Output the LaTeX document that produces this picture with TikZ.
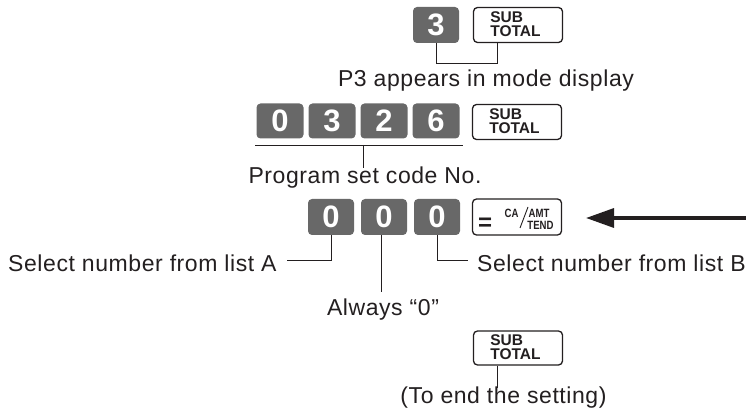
\documentclass[tikz,border=0pt]{standalone}
\usepackage{fontspec}
\usepackage{graphicx}
\setmainfont{Liberation Sans}
\newfontfamily\lblfont[LetterSpace=2.5]{Liberation Sans}
\usetikzlibrary{arrows.meta}
\definecolor{keygray}{RGB}{104,104,104}
\definecolor{ink}{RGB}{35,31,32}
\newcommand{\cnd}[1]{\scalebox{0.8}[1]{#1}}
\tikzset{
  numkey/.style={fill=keygray, draw=none, rounded corners=4pt, minimum width=46pt, minimum height=36pt,
    text=white, font=\fontsize{31}{31}\selectfont\bfseries, inner sep=0pt},
  fnkey/.style={draw=ink, line width=1.3pt, fill=white, rounded corners=4pt, minimum width=89pt, minimum height=35pt, inner sep=0pt},
  keylabel/.style={font=\fontsize{15.5}{14}\selectfont\bfseries, align=left, text=ink, inner sep=0pt},
  tiny/.style={font=\fontsize{12}{12}\selectfont\bfseries, text=ink, inner sep=0pt},
  lbl/.style={font=\lblfont\fontsize{23}{24}\selectfont, text=ink, inner sep=0pt},
  conn/.style={draw=ink, line width=0.9pt},
}
\begin{document}
\begin{tikzpicture}[x=1pt,y=-1pt]
\useasboundingbox (0,0) rectangle (746,419);
% Row 1
\node[numkey] (k3a) at (436,25) {3};
\node[fnkey] (st1) at (518,25) {};
\node[keylabel] (st1t) at (515.5,24) {SUB\\TOTAL};
\coordinate (b1) at (436,63);
\coordinate (b2) at (497,63);
\coordinate (b3) at (497,43);
\draw[conn] (k3a.south) -- (b1) -- (b2) -- (b3);
\node[lbl] (p3) at (486,81) {P3 appears in mode display};
% Row 2
\node[numkey, minimum width=47pt, minimum height=35pt] (k0) at (280,121) {0};
\node[numkey, minimum width=47pt, minimum height=35pt] (k3) at (332,121) {3};
\node[numkey, minimum width=47pt, minimum height=35pt] (k2) at (384,121) {2};
\node[numkey, minimum width=47pt, minimum height=35pt] (k6) at (436,121) {6};
\node[fnkey] (st2) at (517,122) {};
\node[keylabel] (st2t) at (514.5,121) {SUB\\TOTAL};
\coordinate (u1) at (255,145);
\coordinate (u2) at (463,145);
\coordinate (u3) at (363,145);
\coordinate (u4) at (363,168);
\draw[conn] (u1) -- (u2);
\draw[conn] (u3) -- (u4);
\node[lbl] (prog) at (365,178) {Program set code No.};
% Row 3
\node[numkey] (z1) at (331,217) {0};
\node[numkey] (z2) at (384,217) {0};
\node[numkey] (z3) at (437,217) {0};
\node[fnkey, minimum height=36pt] (eq) at (517,217) {};
\node[font=\fontsize{24}{24}\selectfont\bfseries, text=ink, inner sep=0pt] (eqs) at (485,224) {=};
\node[tiny] (ca) at (511.5,213) {\cnd{CA}};
\node[tiny] (amt) at (539,213) {\cnd{AMT}};
\node[tiny] (tend) at (540.5,225.5) {\cnd{TEND}};
\coordinate (sl1) at (520,228);
\coordinate (sl2) at (528,207);
\draw[ink, line width=0.9pt] (sl1) -- (sl2);
\coordinate (arrs) at (746,218);
\coordinate (arre) at (586,218);
\draw[ink, line width=3.4pt, -{Triangle[length=28pt,width=19pt]}] (arrs) -- (arre);
% labels row 3
\node[lbl, anchor=west] (la) at (8,263) {Select number from list A};
\coordinate (a1) at (287,260);
\coordinate (a2) at (331,260);
\draw[conn] (a1) -- (a2) -- (z1.south);
\node[lbl, anchor=west] (lb) at (477,263) {Select number from list B};
\coordinate (c1) at (437,260);
\coordinate (c2) at (468,260);
\draw[conn] (z3.south) -- (c1) -- (c2);
\coordinate (m1) at (381,292);
\draw[conn] (z2.south -| m1) -- (m1);
\node[lbl] (alw) at (383,310) {Always “0”};
% Row 4
\node[fnkey, minimum height=34pt] (st3) at (518,348) {};
\node[keylabel] (st3t) at (515.5,347) {SUB\\TOTAL};
\coordinate (e1) at (497,388);
\draw[conn] (st3.south -| e1) -- (e1);
\node[lbl] (end) at (503.5,398) {(To end the setting)};
\end{tikzpicture}
\end{document}
